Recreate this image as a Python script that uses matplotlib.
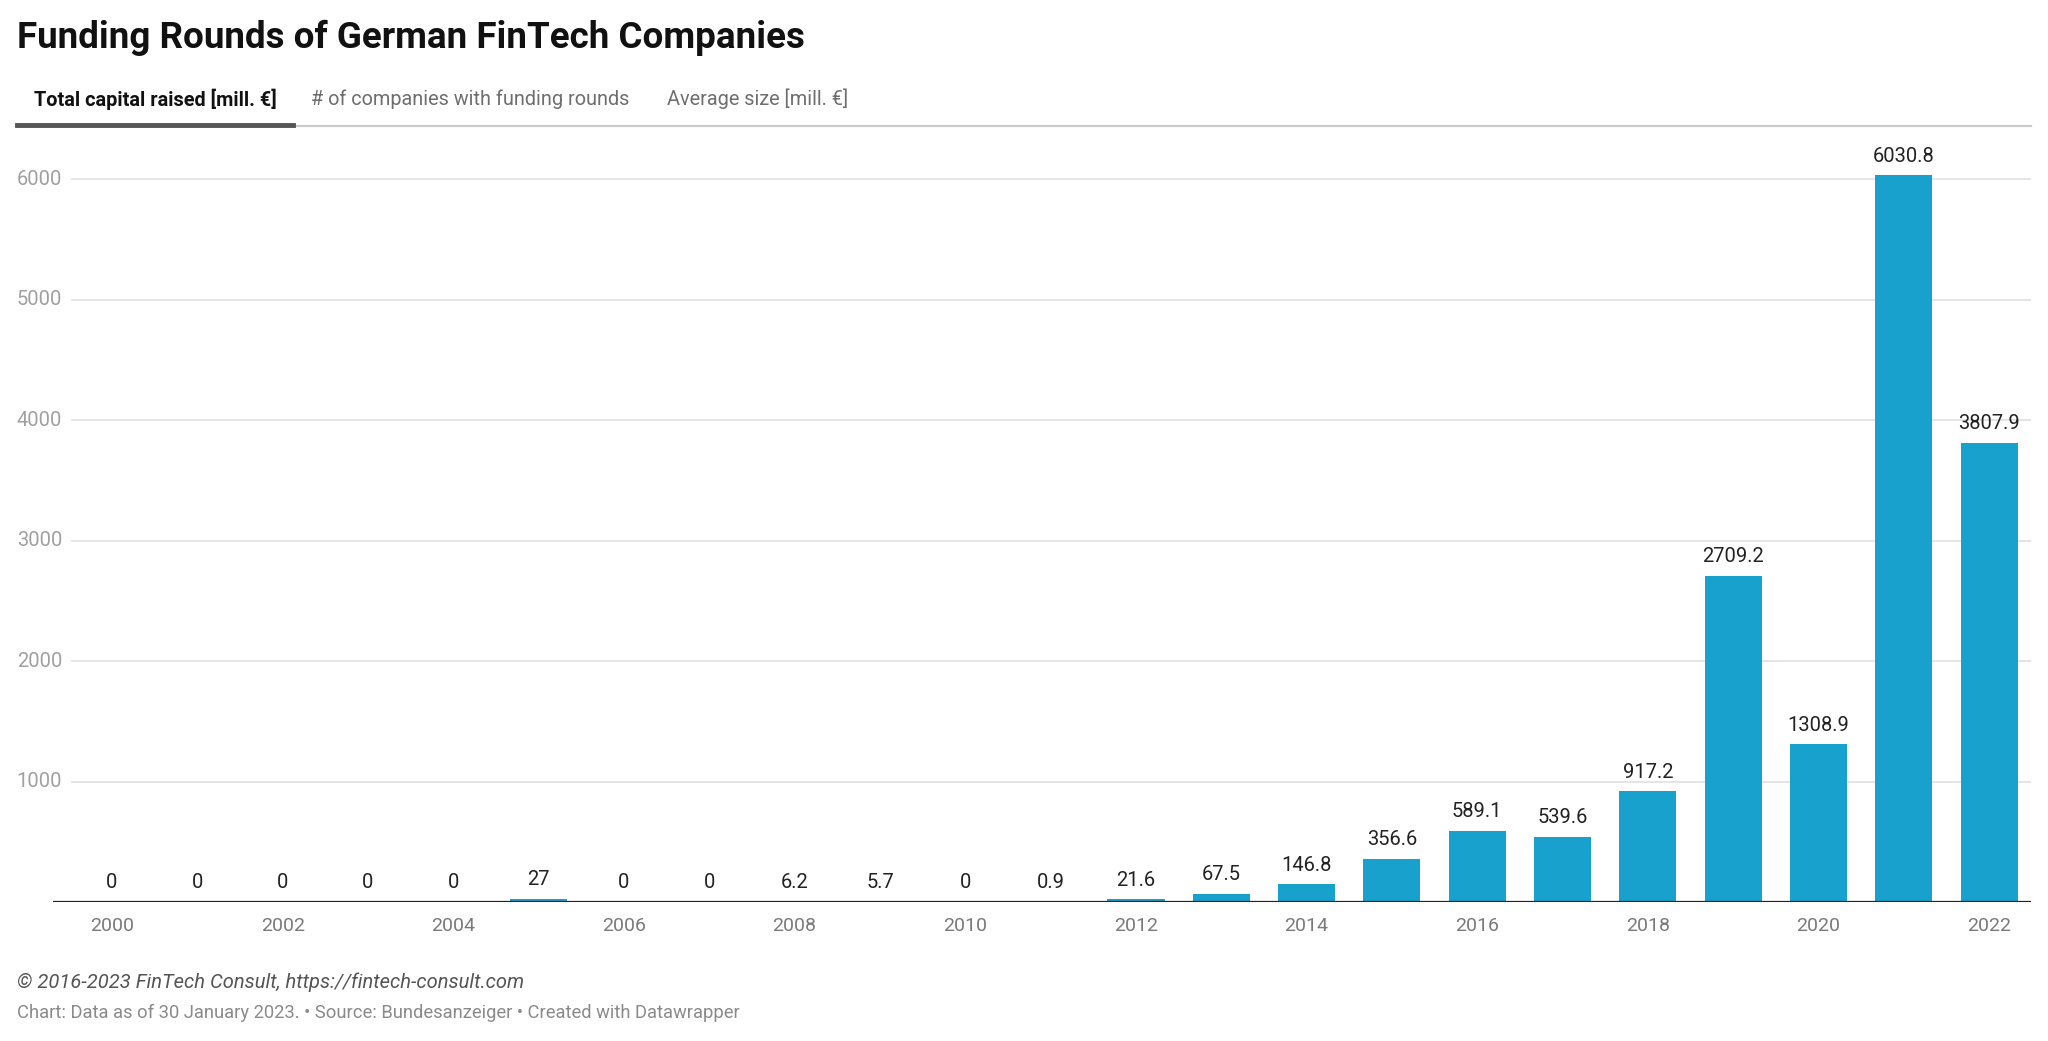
import matplotlib
matplotlib.use("Agg")
import matplotlib.pyplot as plt
from matplotlib.lines import Line2D
from matplotlib.transforms import blended_transform_factory

plt.rcParams['font.family'] = ['Roboto', 'DejaVu Sans']

years = list(range(2000, 2023))
capital = [0, 0, 0, 0, 0, 27, 0, 0, 6.2, 5.7, 0, 0.9, 21.6, 67.5, 146.8,
           356.6, 589.1, 539.6, 917.2, 2709.2, 1308.9, 6030.8, 3807.9]
value_labels = [f"{v:g}" for v in capital]
xtick_years = list(range(2000, 2023, 2))
yticks = [1000, 2000, 3000, 4000, 5000, 6000]

title = "Funding Rounds of German FinTech Companies"
tabs = ["Total capital raised [mill. €]", "# of companies with funding rounds", "Average size [mill. €]"]
footer1 = "© 2016-2023 FinTech Consult, https://fintech-consult.com"
footer2 = "Chart: Data as of 30 January 2023. • Source: Bundesanzeiger • Created with Datawrapper"

W, H = 2048, 1041
fig = plt.figure(figsize=(W / 100, H / 100), dpi=100)

def fx(px):
    return px / W

def fy(py):
    return 1 - py / H

ax_left, ax_right, ax_bottom, ax_top = 53, 2031, 902, 140
ax = fig.add_axes([fx(ax_left), fy(ax_bottom), fx(ax_right - ax_left), (ax_bottom - ax_top) / H])

x = list(range(len(years)))
ax.bar(x, capital, width=0.67, color="#18a1cd", zorder=3)
ax.set_xlim(-0.6915, 22.49)
ax.set_ylim(0, 6324)

gx0 = (72 - ax_left) / (ax_right - ax_left)
for yt in yticks:
    ax.axhline(yt, xmin=gx0, xmax=1, color="#e3e3e3", lw=1.3, zorder=1)
ax.axhline(0, color="#222222", lw=1.6, zorder=4)

for spine in ax.spines.values():
    spine.set_visible(False)
ax.set_yticks([])
trans = blended_transform_factory(ax.transAxes, ax.transData)
lx = (62 - ax_left) / (ax_right - ax_left)
for yt in yticks:
    ax.text(lx, yt, str(yt), transform=trans, ha="right", va="center",
            fontsize=14.5, color="#a0a0a0")

ax.set_xticks([years.index(y) for y in xtick_years])
ax.set_xticklabels([str(y) for y in xtick_years])
ax.tick_params(axis='x', length=0, pad=11, labelsize=14, labelcolor="#7a7a7a")

for xi, v, lab in zip(x, capital, value_labels):
    ax.annotate(lab, (xi, v), xytext=(0, 7), textcoords="offset points",
                ha="center", va="bottom", fontsize=14.5, color="#222222", zorder=5)

fig.text(fx(17), fy(38), title, fontsize=26.5, fontweight="bold", color="#111111",
         ha="left", va="center")

tab_x = [34, 311, 667]
for i, (t, tx) in enumerate(zip(tabs, tab_x)):
    fig.text(fx(tx), fy(99), t, fontsize=14.3,
             fontweight="bold" if i == 0 else "normal",
             color="#111111" if i == 0 else "#6e6e6e", ha="left", va="center")

fig.add_artist(Line2D([fx(17), fx(2031)], [fy(126), fy(126)], color="#cccccc", lw=1.6))
fig.add_artist(Line2D([fx(17), fx(293)], [fy(125), fy(125)], color="#555555", lw=3.5))

fig.text(fx(17), fy(982), footer1, fontsize=14.5, style="italic", color="#555555",
         ha="left", va="center")
fig.text(fx(17), fy(1013), footer2, fontsize=13.25, color="#8a8a8a",
         ha="left", va="center")

fig.savefig("out.png", dpi=100, facecolor="white")
